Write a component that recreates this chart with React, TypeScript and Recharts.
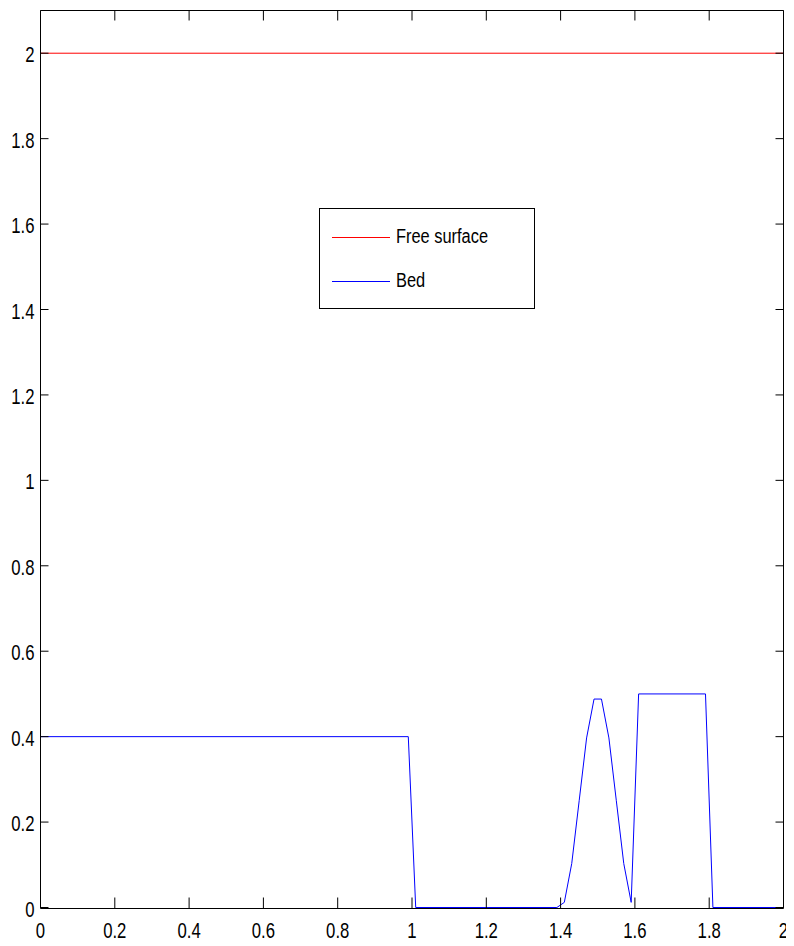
import React from 'react';
import { LineChart, Line, XAxis, YAxis, CartesianGrid } from 'recharts';

// Bed profile breakpoints (x, elevation); straight segments between them
const bedX = [0, 0.99, 1.01, 1.39, 1.41, 1.43, 1.45, 1.47, 1.49, 1.51, 1.53, 1.55, 1.57, 1.59, 1.61, 1.79, 1.81, 2];
const bedZ = [0.4, 0.4, 0, 0, 0.012, 0.103, 0.25, 0.397, 0.488, 0.488, 0.397, 0.25, 0.103, 0.012, 0.5, 0.5, 0, 0];

// Free surface elevation
const surfaceX = [0, 2];
const surfaceZ = [2, 2];

const xTicks = [0, 0.2, 0.4, 0.6, 0.8, 1, 1.2, 1.4, 1.6, 1.8, 2];
const yTicks = [0, 0.2, 0.4, 0.6, 0.8, 1, 1.2, 1.4, 1.6, 1.8, 2];

const bedData = bedX.map((x, i) => ({ x, z: bedZ[i] }));
const surfaceData = surfaceX.map((x, i) => ({ x, z: surfaceZ[i] }));

const FONT = '"Liberation Sans", Arial, sans-serif';
const X_TICK_LEN = 10;
const Y_TICK_LEN = 8;
const NARROW = 0.76;
const TICK_FONT = 22;

// Chart box and margins (half-pixel offsets keep the 1px frame crisp)
const CHART_W = 786;
const CHART_H = 938;
const MARGIN = { top: 1.5, right: 9.5, bottom: 8.5, left: 0.5 };
const Y_AXIS_W = 32;
const X_AXIS_H = 30;
const FRAME_AXIS = 1; // thickness reserved for the top and right frame axes
const FRAME_TOP = MARGIN.top + FRAME_AXIS;
const FRAME_RIGHT = CHART_W - MARGIN.right - FRAME_AXIS;
// bottom frame edge drawn one pixel under the zero level so the bed line stays visible on it
const FRAME_BOTTOM = CHART_H - MARGIN.bottom - X_AXIS_H + 1;

const legendItems = [
  { name: 'Free surface', color: '#ff0000' },
  { name: 'Bed', color: '#0000ff' },
];

const fmt = (v: number) => String(Number(v.toFixed(1)));

// Bottom axis tick: inward marks on bottom and top edges, condensed label
const XTick = (props: any) => {
  const { x, y, payload } = props;
  return (
    <g>
      <line x1={x} y1={y + 1} x2={x} y2={y - X_TICK_LEN} stroke="#000" strokeWidth={1} />
      <line x1={x} y1={FRAME_TOP} x2={x} y2={FRAME_TOP + X_TICK_LEN} stroke="#000" strokeWidth={1} />
      <text
        x={0}
        y={0}
        transform={`translate(${x},${y + 30}) scale(${NARROW},1)`}
        textAnchor="middle"
        fontSize={TICK_FONT}
        fontFamily={FONT}
        fill="#000"
      >
        {fmt(payload.value)}
      </text>
    </g>
  );
};

// Left axis tick: inward marks on left and right edges, condensed label
const YTick = (props: any) => {
  const { x, y, payload } = props;
  return (
    <g>
      <line x1={x} y1={y} x2={x + Y_TICK_LEN} y2={y} stroke="#000" strokeWidth={1} />
      <line x1={FRAME_RIGHT} y1={y} x2={FRAME_RIGHT - Y_TICK_LEN} y2={y} stroke="#000" strokeWidth={1} />
      <text
        x={0}
        y={0}
        transform={`translate(${x - 6},${y + 9}) scale(${NARROW},1)`}
        textAnchor="end"
        fontSize={TICK_FONT}
        fontFamily={FONT}
        fill="#000"
      >
        {fmt(payload.value)}
      </text>
    </g>
  );
};

const LegendBox = () => (
  <div
    style={{
      position: 'absolute',
      left: 311,
      top: 200,
      width: 216,
      height: 101,
      border: '1px solid #000',
      background: '#fff',
      boxSizing: 'border-box',
      fontFamily: FONT,
      fontSize: 20,
      color: '#000',
      paddingTop: 7,
    }}
  >
    {legendItems.map((it) => (
      <div key={it.name} style={{ position: 'relative', height: 44 }}>
        <svg
          width={60}
          height={4}
          style={{ position: 'absolute', left: 12, top: 20, display: 'block' }}
        >
          <line x1={0} y1={1.5} x2={58} y2={1.5} stroke={it.color} strokeWidth={1.2} />
        </svg>
        <span
          style={{
            position: 'absolute',
            left: 76,
            top: 8,
            lineHeight: '24px',
            whiteSpace: 'nowrap',
            transform: 'scaleX(0.82)',
            transformOrigin: 'left center',
          }}
        >
          {it.name}
        </span>
      </div>
    ))}
  </div>
);

export default function App() {
  return (
    <div style={{ position: 'relative', width: CHART_W, height: CHART_H }}>
      <LineChart width={CHART_W} height={CHART_H} margin={MARGIN}>
        <CartesianGrid
          xAxisId="b"
          yAxisId="l"
          vertical={false}
          horizontalPoints={[FRAME_BOTTOM]}
          stroke="#000"
          strokeDasharray="none"
        />
        <XAxis
          xAxisId="b"
          dataKey="x"
          type="number"
          domain={[0, 2]}
          ticks={xTicks}
          allowDuplicatedCategory={false}
          height={X_AXIS_H}
          tickSize={0}
          tickMargin={0}
          axisLine={false}
          tickLine={false}
          tick={XTick}
          interval={0}
        />
        <XAxis
          xAxisId="t"
          orientation="top"
          type="number"
          domain={[0, 2]}
          height={FRAME_AXIS}
          axisLine={{ stroke: '#000' }}
          tickLine={false}
          tick={false}
        />
        <YAxis
          yAxisId="l"
          type="number"
          domain={[0, 2.1]}
          ticks={yTicks}
          width={Y_AXIS_W}
          tickSize={0}
          tickMargin={0}
          axisLine={{ stroke: '#000' }}
          tickLine={false}
          tick={YTick}
          interval={0}
        />
        <YAxis
          yAxisId="r"
          orientation="right"
          type="number"
          domain={[0, 2.1]}
          width={FRAME_AXIS}
          axisLine={{ stroke: '#000' }}
          tickLine={false}
          tick={false}
        />
        <Line
          xAxisId="b"
          yAxisId="l"
          data={surfaceData}
          dataKey="z"
          name="Free surface"
          stroke="#ff0000"
          strokeWidth={1}
          dot={false}
          type="linear"
          isAnimationActive={false}
        />
        <Line
          xAxisId="b"
          yAxisId="l"
          data={bedData}
          dataKey="z"
          name="Bed"
          stroke="#0000ff"
          strokeWidth={1}
          dot={false}
          type="linear"
          isAnimationActive={false}
        />
      </LineChart>
      <LegendBox />
    </div>
  );
}
